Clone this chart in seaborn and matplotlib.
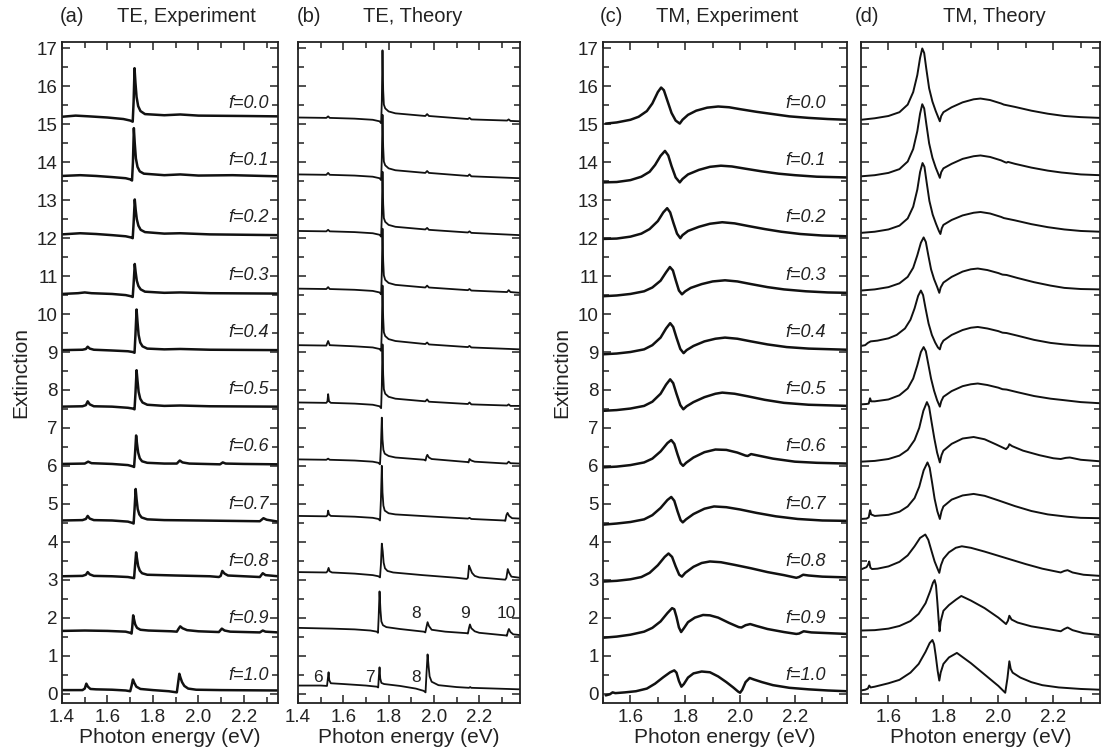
import matplotlib
matplotlib.use("Agg")
import matplotlib.pyplot as plt
import pandas as pd
import seaborn as sns
from matplotlib.ticker import MultipleLocator

# ---------------- data ----------------
f_labels = ["f=0.0", "f=0.1", "f=0.2", "f=0.3", "f=0.4", "f=0.5",
            "f=0.6", "f=0.7", "f=0.8", "f=0.9", "f=1.0"]

# (a) TE, experiment: (photon energy, extinction) per curve
te_exp = [
    [(1.40,15.20),(1.46,15.23),(1.52,15.21),(1.60,15.18),(1.67,15.14),(1.70,15.10),(1.711,15.07),(1.715,15.60),(1.719,16.48),(1.723,16.10),(1.728,15.72),(1.735,15.48),(1.745,15.35),(1.765,15.27),(1.85,15.24),(1.92,15.26),(2.00,15.23),(2.20,15.22),(2.35,15.21)],
    [(1.40,13.64),(1.48,13.66),(1.55,13.64),(1.62,13.61),(1.68,13.58),(1.700,13.55),(1.708,13.52),(1.712,14.00),(1.716,14.90),(1.720,14.50),(1.725,14.10),(1.732,13.88),(1.742,13.76),(1.76,13.70),(1.85,13.66),(1.92,13.68),(2.00,13.65),(2.15,13.66),(2.35,13.63)],
    [(1.40,12.10),(1.48,12.13),(1.55,12.11),(1.62,12.08),(1.68,12.05),(1.703,12.02),(1.711,12.00),(1.715,12.40),(1.720,13.02),(1.724,12.75),(1.729,12.50),(1.736,12.33),(1.746,12.22),(1.765,12.16),(1.85,12.12),(1.92,12.13),(2.05,12.10),(2.35,12.08)],
    [(1.40,10.53),(1.47,10.55),(1.50,10.57),(1.53,10.55),(1.62,10.53),(1.68,10.50),(1.703,10.47),(1.711,10.45),(1.715,10.80),(1.720,11.32),(1.724,11.10),(1.729,10.88),(1.736,10.74),(1.746,10.65),(1.765,10.59),(1.85,10.56),(1.92,10.57),(2.05,10.55),(2.35,10.54)],
    [(1.40,9.05),(1.49,9.06),(1.505,9.08),(1.513,9.14),(1.522,9.09),(1.54,9.06),(1.62,9.04),(1.69,9.02),(1.711,9.00),(1.719,8.98),(1.723,9.45),(1.728,10.12),(1.732,9.80),(1.737,9.45),(1.744,9.25),(1.754,9.15),(1.775,9.09),(1.85,9.07),(1.92,9.08),(2.05,9.06),(2.35,9.05)],
    [(1.40,7.56),(1.49,7.57),(1.505,7.60),(1.513,7.70),(1.522,7.62),(1.54,7.57),(1.62,7.56),(1.69,7.53),(1.711,7.51),(1.719,7.49),(1.723,7.90),(1.728,8.52),(1.732,8.25),(1.737,7.95),(1.744,7.77),(1.754,7.67),(1.775,7.61),(1.85,7.58),(1.92,7.59),(2.05,7.57),(2.35,7.56)],
    [(1.40,6.05),(1.50,6.06),(1.515,6.11),(1.53,6.07),(1.62,6.05),(1.69,6.02),(1.709,5.99),(1.717,5.97),(1.721,6.30),(1.726,6.80),(1.730,6.58),(1.735,6.35),(1.742,6.20),(1.752,6.12),(1.775,6.08),(1.85,6.06),(1.905,6.06),(1.918,6.14),(1.93,6.09),(1.96,6.06),(2.095,6.04),(2.107,6.09),(2.12,6.06),(2.20,6.05),(2.35,6.04)],
    [(1.40,4.56),(1.49,4.57),(1.505,4.60),(1.513,4.68),(1.522,4.61),(1.54,4.57),(1.62,4.56),(1.69,4.53),(1.707,4.50),(1.715,4.48),(1.719,4.85),(1.724,5.39),(1.728,5.12),(1.733,4.86),(1.740,4.72),(1.750,4.64),(1.775,4.59),(1.85,4.57),(2.00,4.56),(2.27,4.54),(2.286,4.62),(2.30,4.58),(2.35,4.53)],
    [(1.40,3.09),(1.49,3.10),(1.505,3.13),(1.513,3.20),(1.522,3.14),(1.54,3.10),(1.62,3.09),(1.69,3.07),(1.709,3.05),(1.717,3.04),(1.721,3.35),(1.726,3.72),(1.730,3.55),(1.735,3.36),(1.742,3.24),(1.752,3.17),(1.775,3.13),(1.90,3.11),(2.05,3.09),(2.09,3.07),(2.098,3.10),(2.105,3.23),(2.115,3.16),(2.13,3.11),(2.20,3.09),(2.27,3.07),(2.283,3.17),(2.295,3.12),(2.35,3.09)],
    [(1.40,1.65),(1.50,1.66),(1.60,1.65),(1.68,1.63),(1.700,1.60),(1.706,1.58),(1.709,1.75),(1.713,2.06),(1.717,1.95),(1.722,1.82),(1.730,1.73),(1.745,1.68),(1.78,1.66),(1.88,1.64),(1.905,1.63),(1.912,1.70),(1.920,1.77),(1.93,1.72),(1.95,1.67),(2.00,1.64),(2.09,1.62),(2.103,1.71),(2.115,1.66),(2.14,1.63),(2.27,1.61),(2.283,1.66),(2.295,1.63),(2.35,1.61)],
    [(1.40,0.09),(1.49,0.09),(1.500,0.13),(1.507,0.26),(1.514,0.18),(1.525,0.12),(1.55,0.11),(1.62,0.10),(1.68,0.08),(1.700,0.06),(1.706,0.20),(1.712,0.37),(1.718,0.28),(1.727,0.18),(1.745,0.12),(1.80,0.09),(1.87,0.06),(1.905,0.03),(1.910,0.25),(1.916,0.52),(1.921,0.42),(1.928,0.30),(1.938,0.20),(1.955,0.13),(1.99,0.10),(2.10,0.09),(2.35,0.08)],
]

# (b) TE, theory
te_th = [
    [(1.40,15.18),(1.525,15.17),(1.533,15.21),(1.54,15.17),(1.65,15.15),(1.73,15.12),(1.760,15.08),(1.767,15.03),(1.770,15.6),(1.773,16.95),(1.776,15.9),(1.779,15.52),(1.785,15.42),(1.80,15.34),(1.83,15.29),(1.962,15.22),(1.970,15.27),(1.978,15.22),(2.150,15.14),(2.157,15.17),(2.165,15.13),(2.323,15.10),(2.330,15.13),(2.338,15.09),(2.38,15.08)],
    [(1.40,13.68),(1.525,13.67),(1.533,13.72),(1.54,13.67),(1.65,13.65),(1.73,13.62),(1.760,13.58),(1.767,13.53),(1.770,14.1),(1.773,15.25),(1.776,14.4),(1.779,14.02),(1.785,13.92),(1.80,13.84),(1.83,13.79),(1.962,13.72),(1.970,13.77),(1.978,13.72),(2.150,13.64),(2.157,13.68),(2.165,13.63),(2.38,13.58)],
    [(1.40,12.19),(1.525,12.18),(1.533,12.22),(1.54,12.18),(1.65,12.16),(1.73,12.13),(1.760,12.09),(1.767,12.04),(1.770,12.6),(1.773,13.75),(1.776,12.9),(1.779,12.53),(1.785,12.43),(1.80,12.35),(1.83,12.30),(1.962,12.23),(1.970,12.27),(1.978,12.22),(2.150,12.15),(2.157,12.18),(2.165,12.14),(2.38,12.08)],
    [(1.40,10.67),(1.525,10.66),(1.533,10.71),(1.54,10.66),(1.65,10.64),(1.73,10.61),(1.760,10.57),(1.767,10.52),(1.770,11.1),(1.773,12.25),(1.776,11.4),(1.779,11.02),(1.785,10.90),(1.80,10.82),(1.83,10.77),(1.962,10.70),(1.970,10.75),(1.978,10.70),(2.150,10.63),(2.157,10.66),(2.165,10.62),(2.323,10.58),(2.330,10.63),(2.338,10.58),(2.38,10.56)],
    [(1.40,9.18),(1.525,9.17),(1.533,9.29),(1.54,9.18),(1.65,9.15),(1.73,9.12),(1.760,9.08),(1.767,9.03),(1.770,9.6),(1.773,10.75),(1.776,9.9),(1.779,9.52),(1.785,9.42),(1.80,9.34),(1.83,9.29),(1.962,9.21),(1.970,9.25),(1.978,9.20),(2.150,9.13),(2.157,9.16),(2.165,9.12),(2.38,9.07)],
    [(1.40,7.67),(1.525,7.66),(1.530,7.70),(1.533,7.89),(1.537,7.70),(1.545,7.66),(1.65,7.64),(1.73,7.61),(1.760,7.57),(1.767,7.52),(1.770,8.1),(1.773,9.20),(1.776,8.4),(1.779,8.02),(1.785,7.90),(1.80,7.82),(1.83,7.77),(1.962,7.70),(1.970,7.75),(1.978,7.69),(2.150,7.63),(2.157,7.67),(2.165,7.62),(2.323,7.59),(2.330,7.62),(2.338,7.58),(2.38,7.58)],
    [(1.40,6.17),(1.525,6.16),(1.533,6.19),(1.54,6.16),(1.65,6.14),(1.73,6.11),(1.755,6.08),(1.762,6.04),(1.766,6.5),(1.770,7.27),(1.773,6.7),(1.777,6.42),(1.783,6.32),(1.80,6.26),(1.83,6.22),(1.958,6.16),(1.963,6.14),(1.967,6.24),(1.971,6.29),(1.978,6.22),(1.99,6.18),(2.148,6.10),(2.153,6.09),(2.157,6.18),(2.165,6.14),(2.18,6.11),(2.322,6.06),(2.330,6.11),(2.338,6.07),(2.38,6.06)],
    [(1.40,4.68),(1.525,4.67),(1.530,4.70),(1.533,4.82),(1.537,4.72),(1.545,4.68),(1.65,4.66),(1.73,4.63),(1.755,4.60),(1.762,4.56),(1.766,5.1),(1.770,6.00),(1.773,5.3),(1.777,4.95),(1.783,4.82),(1.80,4.75),(1.83,4.72),(2.00,4.66),(2.15,4.61),(2.157,4.63),(2.165,4.60),(2.310,4.56),(2.315,4.55),(2.320,4.70),(2.325,4.76),(2.332,4.68),(2.345,4.62),(2.38,4.61)],
    [(1.40,3.20),(1.525,3.19),(1.530,3.22),(1.535,3.31),(1.540,3.22),(1.55,3.19),(1.65,3.16),(1.73,3.12),(1.755,3.09),(1.762,3.06),(1.766,3.40),(1.770,3.95),(1.774,3.75),(1.778,3.45),(1.784,3.30),(1.795,3.23),(1.82,3.19),(1.95,3.12),(2.10,3.05),(2.145,3.02),(2.150,3.05),(2.155,3.37),(2.160,3.30),(2.168,3.18),(2.18,3.10),(2.20,3.06),(2.315,3.00),(2.320,3.05),(2.326,3.28),(2.332,3.18),(2.342,3.08),(2.38,3.05)],
    [(1.40,1.73),(1.55,1.71),(1.65,1.69),(1.72,1.66),(1.748,1.63),(1.753,1.60),(1.756,2.0),(1.760,2.69),(1.764,2.2),(1.768,1.90),(1.775,1.80),(1.79,1.75),(1.85,1.70),(1.955,1.63),(1.962,1.61),(1.967,1.75),(1.972,1.88),(1.978,1.78),(1.99,1.68),(2.05,1.63),(2.145,1.59),(2.150,1.58),(2.155,1.73),(2.159,1.82),(2.165,1.72),(2.18,1.64),(2.20,1.60),(2.318,1.53),(2.322,1.52),(2.327,1.64),(2.331,1.70),(2.338,1.62),(2.35,1.56),(2.38,1.54)],
    [(1.40,0.21),(1.50,0.21),(1.528,0.20),(1.532,0.40),(1.535,0.56),(1.538,0.35),(1.545,0.27),(1.60,0.25),(1.70,0.21),(1.748,0.18),(1.754,0.16),(1.757,0.45),(1.760,0.69),(1.763,0.40),(1.768,0.28),(1.78,0.25),(1.85,0.20),(1.92,0.13),(1.955,0.07),(1.963,0.03),(1.967,0.50),(1.972,1.03),(1.976,0.75),(1.981,0.45),(1.99,0.31),(2.02,0.22),(2.10,0.17),(2.155,0.15),(2.16,0.17),(2.165,0.15),(2.38,0.11)],
]

# (c) TM, experiment
tm_exp = [
    [(1.51,15.02),(1.55,15.05),(1.60,15.12),(1.63,15.20),(1.66,15.35),(1.68,15.55),(1.70,15.85),(1.712,15.97),(1.722,15.90),(1.735,15.62),(1.75,15.30),(1.765,15.10),(1.780,15.02),(1.79,15.12),(1.81,15.25),(1.84,15.36),(1.88,15.44),(1.92,15.47),(1.96,15.45),(2.00,15.40),(2.06,15.33),(2.12,15.27),(2.18,15.21),(2.25,15.17),(2.32,15.14),(2.39,15.12)],
    [(1.50,13.47),(1.55,13.48),(1.60,13.53),(1.64,13.62),(1.67,13.75),(1.69,13.93),(1.71,14.17),(1.726,14.30),(1.738,14.18),(1.75,13.90),(1.765,13.60),(1.780,13.47),(1.79,13.56),(1.81,13.68),(1.85,13.80),(1.89,13.88),(1.93,13.91),(1.97,13.89),(2.02,13.83),(2.08,13.76),(2.14,13.70),(2.20,13.66),(2.28,13.62),(2.39,13.60)],
    [(1.50,11.98),(1.55,11.99),(1.60,12.04),(1.64,12.12),(1.67,12.24),(1.70,12.45),(1.72,12.68),(1.734,12.79),(1.745,12.68),(1.757,12.40),(1.770,12.12),(1.782,12.00),(1.79,12.08),(1.81,12.19),(1.85,12.30),(1.89,12.38),(1.935,12.42),(1.98,12.39),(2.03,12.32),(2.09,12.24),(2.15,12.17),(2.22,12.11),(2.30,12.07),(2.39,12.05)],
    [(1.50,10.47),(1.55,10.49),(1.60,10.53),(1.65,10.60),(1.68,10.70),(1.71,10.88),(1.73,11.10),(1.744,11.24),(1.755,11.15),(1.765,10.90),(1.777,10.62),(1.788,10.52),(1.80,10.60),(1.82,10.69),(1.86,10.79),(1.90,10.86),(1.945,10.89),(1.99,10.86),(2.04,10.79),(2.10,10.71),(2.16,10.65),(2.24,10.60),(2.32,10.57),(2.39,10.56)],
    [(1.50,8.94),(1.55,8.96),(1.60,9.00),(1.65,9.07),(1.68,9.18),(1.71,9.38),(1.73,9.62),(1.745,9.76),(1.756,9.66),(1.768,9.38),(1.782,9.08),(1.794,8.97),(1.805,9.05),(1.83,9.16),(1.87,9.28),(1.91,9.35),(1.945,9.38),(1.99,9.35),(2.04,9.28),(2.10,9.20),(2.17,9.13),(2.25,9.09),(2.39,9.06)],
    [(1.50,7.45),(1.55,7.47),(1.60,7.51),(1.65,7.58),(1.68,7.69),(1.71,7.90),(1.73,8.14),(1.745,8.28),(1.756,8.18),(1.768,7.90),(1.782,7.60),(1.793,7.49),(1.805,7.57),(1.83,7.68),(1.87,7.81),(1.91,7.90),(1.935,7.93),(1.98,7.90),(2.03,7.83),(2.09,7.74),(2.16,7.66),(2.25,7.61),(2.39,7.58)],
    [(1.50,5.96),(1.55,5.98),(1.60,6.02),(1.65,6.09),(1.68,6.19),(1.71,6.38),(1.735,6.60),(1.749,6.68),(1.760,6.58),(1.772,6.30),(1.783,6.07),(1.792,6.00),(1.803,6.08),(1.83,6.22),(1.87,6.36),(1.91,6.43),(1.95,6.42),(1.99,6.35),(2.020,6.27),(2.028,6.26),(2.040,6.31),(2.06,6.28),(2.12,6.19),(2.20,6.11),(2.28,6.08),(2.39,6.06)],
    [(1.50,4.45),(1.55,4.48),(1.60,4.52),(1.65,4.59),(1.68,4.70),(1.71,4.89),(1.735,5.10),(1.749,5.18),(1.760,5.08),(1.772,4.80),(1.783,4.57),(1.791,4.51),(1.803,4.59),(1.83,4.73),(1.87,4.87),(1.905,4.93),(1.95,4.91),(2.00,4.85),(2.06,4.76),(2.13,4.67),(2.21,4.60),(2.30,4.56),(2.39,4.55)],
    [(1.50,2.95),(1.55,2.97),(1.60,3.01),(1.64,3.07),(1.67,3.18),(1.70,3.38),(1.725,3.60),(1.739,3.69),(1.752,3.60),(1.765,3.35),(1.778,3.13),(1.788,3.08),(1.80,3.18),(1.83,3.34),(1.86,3.44),(1.89,3.48),(1.93,3.46),(1.98,3.39),(2.04,3.30),(2.10,3.20),(2.16,3.12),(2.205,3.05),(2.215,3.07),(2.230,3.13),(2.25,3.11),(2.30,3.08),(2.39,3.06)],
    [(1.50,1.47),(1.55,1.50),(1.60,1.55),(1.65,1.63),(1.68,1.73),(1.71,1.90),(1.735,2.12),(1.752,2.25),(1.760,2.22),(1.768,2.02),(1.777,1.74),(1.785,1.62),(1.795,1.72),(1.81,1.88),(1.835,2.00),(1.865,2.07),(1.89,2.06),(1.92,2.00),(1.96,1.86),(1.995,1.75),(2.005,1.74),(2.020,1.80),(2.037,1.83),(2.06,1.78),(2.10,1.70),(2.16,1.62),(2.205,1.57),(2.215,1.58),(2.232,1.64),(2.26,1.61),(2.39,1.57)],
    [(1.51,-0.05),(1.525,-0.02),(1.535,0.03),(1.545,0.01),(1.58,0.03),(1.62,0.06),(1.66,0.13),(1.69,0.26),(1.72,0.43),(1.745,0.56),(1.760,0.61),(1.768,0.55),(1.777,0.33),(1.786,0.18),(1.795,0.25),(1.81,0.42),(1.83,0.53),(1.86,0.58),(1.89,0.56),(1.92,0.45),(1.95,0.30),(1.975,0.16),(1.993,0.05),(2.000,0.02),(2.008,0.10),(2.020,0.30),(2.035,0.41),(2.05,0.37),(2.08,0.30),(2.12,0.22),(2.18,0.15),(2.25,0.11),(2.32,0.08),(2.39,0.06)],
]

# (d) TM, theory
tm_th = [
    [(1.50,15.12),(1.55,15.16),(1.60,15.22),(1.64,15.32),(1.67,15.52),(1.69,15.85),(1.705,16.30),(1.715,16.75),(1.723,17.00),(1.730,16.88),(1.738,16.45),(1.748,15.95),(1.760,15.60),(1.772,15.35),(1.782,15.17),(1.787,15.08),(1.792,15.22),(1.80,15.32),(1.83,15.45),(1.87,15.58),(1.91,15.66),(1.935,15.68),(1.97,15.64),(2.01,15.55),(2.02,15.52),(2.06,15.46),(2.12,15.36),(2.18,15.28),(2.24,15.22),(2.30,15.19),(2.37,15.17)],
    [(1.50,13.63),(1.55,13.66),(1.60,13.72),(1.64,13.82),(1.67,14.02),(1.69,14.35),(1.705,14.82),(1.715,15.28),(1.723,15.53),(1.730,15.42),(1.738,15.00),(1.748,14.50),(1.760,14.12),(1.772,13.86),(1.782,13.68),(1.787,13.59),(1.792,13.74),(1.80,13.84),(1.83,13.96),(1.87,14.09),(1.91,14.16),(1.935,14.18),(1.97,14.14),(2.01,14.05),(2.025,14.00),(2.030,13.99),(2.035,14.01),(2.06,13.96),(2.12,13.86),(2.18,13.78),(2.23,13.73),(2.245,13.72),(2.30,13.68),(2.37,13.66)],
    [(1.50,12.14),(1.55,12.17),(1.60,12.23),(1.64,12.33),(1.67,12.52),(1.69,12.83),(1.705,13.28),(1.715,13.74),(1.724,13.98),(1.731,13.88),(1.739,13.47),(1.749,12.98),(1.761,12.62),(1.773,12.38),(1.783,12.20),(1.789,12.11),(1.794,12.26),(1.80,12.35),(1.83,12.48),(1.87,12.60),(1.91,12.67),(1.935,12.69),(1.97,12.65),(2.01,12.56),(2.02,12.53),(2.06,12.47),(2.12,12.37),(2.18,12.29),(2.24,12.23),(2.30,12.19),(2.37,12.17)],
    [(1.50,10.62),(1.55,10.65),(1.60,10.71),(1.64,10.81),(1.67,10.98),(1.69,11.22),(1.705,11.55),(1.718,11.88),(1.728,12.02),(1.736,11.90),(1.745,11.55),(1.755,11.18),(1.766,10.92),(1.777,10.72),(1.785,10.56),(1.790,10.70),(1.80,10.83),(1.83,10.98),(1.87,11.12),(1.90,11.18),(1.925,11.20),(1.96,11.16),(2.00,11.08),(2.015,11.04),(2.03,11.03),(2.07,10.95),(2.13,10.84),(2.19,10.75),(2.24,10.69),(2.30,10.66),(2.37,10.65)],
    [(1.50,9.16),(1.515,9.18),(1.525,9.24),(1.535,9.28),(1.56,9.30),(1.60,9.36),(1.63,9.45),(1.66,9.62),(1.68,9.85),(1.695,10.15),(1.708,10.48),(1.718,10.62),(1.726,10.50),(1.735,10.15),(1.746,9.75),(1.758,9.45),(1.770,9.25),(1.780,9.12),(1.787,9.07),(1.792,9.20),(1.80,9.30),(1.83,9.45),(1.87,9.58),(1.90,9.64),(1.925,9.66),(1.96,9.62),(2.00,9.55),(2.015,9.51),(2.03,9.50),(2.07,9.43),(2.13,9.32),(2.19,9.24),(2.24,9.20),(2.30,9.17),(2.37,9.16)],
    [(1.50,7.62),(1.52,7.63),(1.528,7.64),(1.533,7.78),(1.537,7.70),(1.55,7.70),(1.60,7.75),(1.64,7.86),(1.67,8.04),(1.69,8.30),(1.705,8.65),(1.718,9.00),(1.728,9.13),(1.736,9.02),(1.745,8.68),(1.755,8.30),(1.766,7.98),(1.777,7.73),(1.787,7.56),(1.792,7.70),(1.80,7.82),(1.83,7.97),(1.87,8.10),(1.90,8.15),(1.925,8.17),(1.96,8.13),(2.00,8.06),(2.015,8.02),(2.03,8.01),(2.07,7.94),(2.13,7.84),(2.19,7.77),(2.24,7.73),(2.30,7.68),(2.37,7.65)],
    [(1.50,6.11),(1.55,6.13),(1.60,6.18),(1.64,6.27),(1.67,6.42),(1.695,6.68),(1.712,7.00),(1.727,7.45),(1.740,7.68),(1.748,7.55),(1.757,7.15),(1.767,6.72),(1.777,6.35),(1.787,6.09),(1.793,6.28),(1.80,6.40),(1.83,6.58),(1.87,6.72),(1.91,6.76),(1.95,6.70),(1.99,6.57),(2.028,6.44),(2.036,6.50),(2.040,6.57),(2.05,6.52),(2.09,6.40),(2.15,6.28),(2.20,6.20),(2.227,6.18),(2.245,6.21),(2.26,6.22),(2.30,6.16),(2.37,6.12)],
    [(1.50,4.60),(1.52,4.61),(1.528,4.64),(1.533,4.83),(1.537,4.72),(1.55,4.68),(1.60,4.71),(1.64,4.79),(1.67,4.93),(1.695,5.15),(1.712,5.45),(1.728,5.88),(1.742,6.09),(1.750,5.95),(1.759,5.55),(1.768,5.13),(1.778,4.80),(1.787,4.60),(1.793,4.80),(1.80,4.93),(1.83,5.11),(1.87,5.22),(1.91,5.26),(1.95,5.21),(2.00,5.09),(2.06,4.94),(2.12,4.81),(2.18,4.72),(2.25,4.66),(2.30,4.63),(2.37,4.62)],
    [(1.50,3.27),(1.52,3.33),(1.526,3.40),(1.530,3.48),(1.534,3.32),(1.54,3.28),(1.56,3.29),(1.60,3.35),(1.64,3.47),(1.67,3.64),(1.695,3.88),(1.715,4.10),(1.734,4.19),(1.745,4.05),(1.757,3.75),(1.768,3.48),(1.778,3.30),(1.785,3.18),(1.791,3.38),(1.80,3.55),(1.82,3.72),(1.845,3.84),(1.867,3.88),(1.90,3.84),(1.95,3.74),(2.00,3.63),(2.05,3.52),(2.10,3.41),(2.16,3.29),(2.227,3.19),(2.240,3.23),(2.252,3.25),(2.27,3.19),(2.31,3.13),(2.37,3.10)],
    [(1.50,1.66),(1.55,1.67),(1.60,1.71),(1.64,1.78),(1.68,1.91),(1.71,2.10),(1.735,2.38),(1.752,2.70),(1.762,2.92),(1.768,2.99),(1.773,2.85),(1.778,2.40),(1.783,1.90),(1.786,1.64),(1.790,1.90),(1.80,2.18),(1.82,2.33),(1.845,2.47),(1.865,2.57),(1.90,2.45),(1.95,2.25),(2.00,2.00),(2.028,1.83),(2.035,1.92),(2.040,2.05),(2.048,1.95),(2.07,1.87),(2.12,1.77),(2.18,1.70),(2.227,1.64),(2.240,1.70),(2.252,1.74),(2.27,1.67),(2.31,1.59),(2.37,1.54)],
    [(1.50,0.08),(1.515,0.10),(1.525,0.13),(1.530,0.21),(1.535,0.16),(1.55,0.18),(1.60,0.27),(1.64,0.36),(1.68,0.55),(1.71,0.78),(1.735,1.10),(1.750,1.33),(1.760,1.41),(1.766,1.30),(1.772,1.00),(1.779,0.60),(1.785,0.34),(1.790,0.55),(1.80,0.78),(1.82,0.95),(1.849,1.07),(1.90,0.80),(1.95,0.50),(2.00,0.20),(2.025,0.02),(2.033,0.40),(2.040,0.85),(2.045,0.65),(2.052,0.55),(2.08,0.42),(2.12,0.30),(2.16,0.22),(2.22,0.16),(2.30,0.12),(2.37,0.10)],
]

# mode indices annotated in panel (b)
mode_text = ["6", "7", "8", "8", "9", "10"]
mode_x = [1.490, 1.716, 1.923, 1.923, 2.138, 2.318]
mode_y = [0.43, 0.43, 0.43, 2.10, 2.10, 2.10]


def to_frame(curves):
    rows = []
    for lab, pts in zip(f_labels, curves):
        for x, y in pts:
            rows.append((lab, x, y))
    return pd.DataFrame(rows, columns=["f", "energy", "ext"])


sns.set_theme(style="ticks")
plt.rcParams["font.family"] = ["Liberation Sans", "DejaVu Sans"]
plt.rcParams["axes.linewidth"] = 1.3

W, H = 1103, 756
fig = plt.figure(figsize=(W / 100, H / 100), dpi=100)
fig.patch.set_facecolor("white")


def add_ax(left, right, top=42, bottom=703):
    return fig.add_axes([left / W, 1 - bottom / H, (right - left) / W, (bottom - top) / H])


panels = [
    dict(curves=te_exp, box=(62, 278), xlim=(1.4, 2.35), lw=1.8, ylab=True, xmaj=[1.4, 1.6, 1.8, 2.0, 2.2]),
    dict(curves=te_th, box=(298, 520), xlim=(1.4, 2.38), lw=1.3, ylab=False, xmaj=[1.4, 1.6, 1.8, 2.0, 2.2]),
    dict(curves=tm_exp, box=(603, 847), xlim=(1.5, 2.39), lw=1.8, ylab=True, xmaj=[1.6, 1.8, 2.0, 2.2]),
    dict(curves=tm_th, box=(861, 1100), xlim=(1.5, 2.37), lw=1.4, ylab=False, xmaj=[1.6, 1.8, 2.0, 2.2]),
]

axes = []
for p in panels:
    ax = add_ax(*p["box"])
    df = to_frame(p["curves"])
    sns.lineplot(data=df, x="energy", y="ext", units="f", estimator=None, sort=False,
                 color="#111111", linewidth=p["lw"], ax=ax, legend=False)
    ax.set_xlim(*p["xlim"])
    ax.set_ylim(-0.25, 17.17)
    ax.set_xticks(p["xmaj"])
    ax.set_xticklabels([f"{v:.1f}" for v in p["xmaj"]])
    ax.xaxis.set_minor_locator(MultipleLocator(0.1))
    ax.set_yticks(range(0, 18))
    ax.yaxis.set_minor_locator(MultipleLocator(0.5))
    ax.tick_params(which="both", direction="in", top=True, right=True,
                   width=1.1, colors="#222222", labelsize=13.5, pad=4)
    ax.tick_params(which="major", length=6)
    ax.tick_params(which="minor", length=4)
    ax.tick_params(axis="y", pad=3)
    for s in ax.spines.values():
        s.set_color("#222222")
    ax.set_xlabel("Photon energy (eV)", fontsize=15, labelpad=2, color="#222222")
    if p["ylab"]:
        ax.set_ylabel("Extinction", fontsize=15, labelpad=5, color="#222222")
    else:
        ax.set_ylabel("")
        ax.tick_params(axis="y", labelleft=False)
    axes.append(ax)

# f labels on the experimental panels
for ax, xr in [(axes[0], 2.31), (axes[2], 2.312)]:
    for i, lab in enumerate(f_labels):
        ax.text(xr, 15.55 - 1.508 * i, lab, ha="right", va="center",
                fontsize=13, style="italic", color="#222222")

# mode numbers in panel (b)
for t, x, y in zip(mode_text, mode_x, mode_y):
    axes[1].text(x, y, t, ha="center", va="center", fontsize=12.5, color="#222222")

# panel titles
titles = [("(a)", 60, "TE, Experiment", 186), ("(b)", 297, "TE, Theory", 413),
          ("(c)", 600, "TM, Experiment", 727), ("(d)", 855, "TM, Theory", 994)]
for tag, xt, name, xn in titles:
    fig.text(xt / W, 1 - 16 / H, tag, ha="left", va="center", fontsize=14.5, color="#222222")
    fig.text(xn / W, 1 - 16 / H, name, ha="center", va="center", fontsize=14.5, color="#222222")

fig.savefig("out.png", dpi=100, facecolor="white")
